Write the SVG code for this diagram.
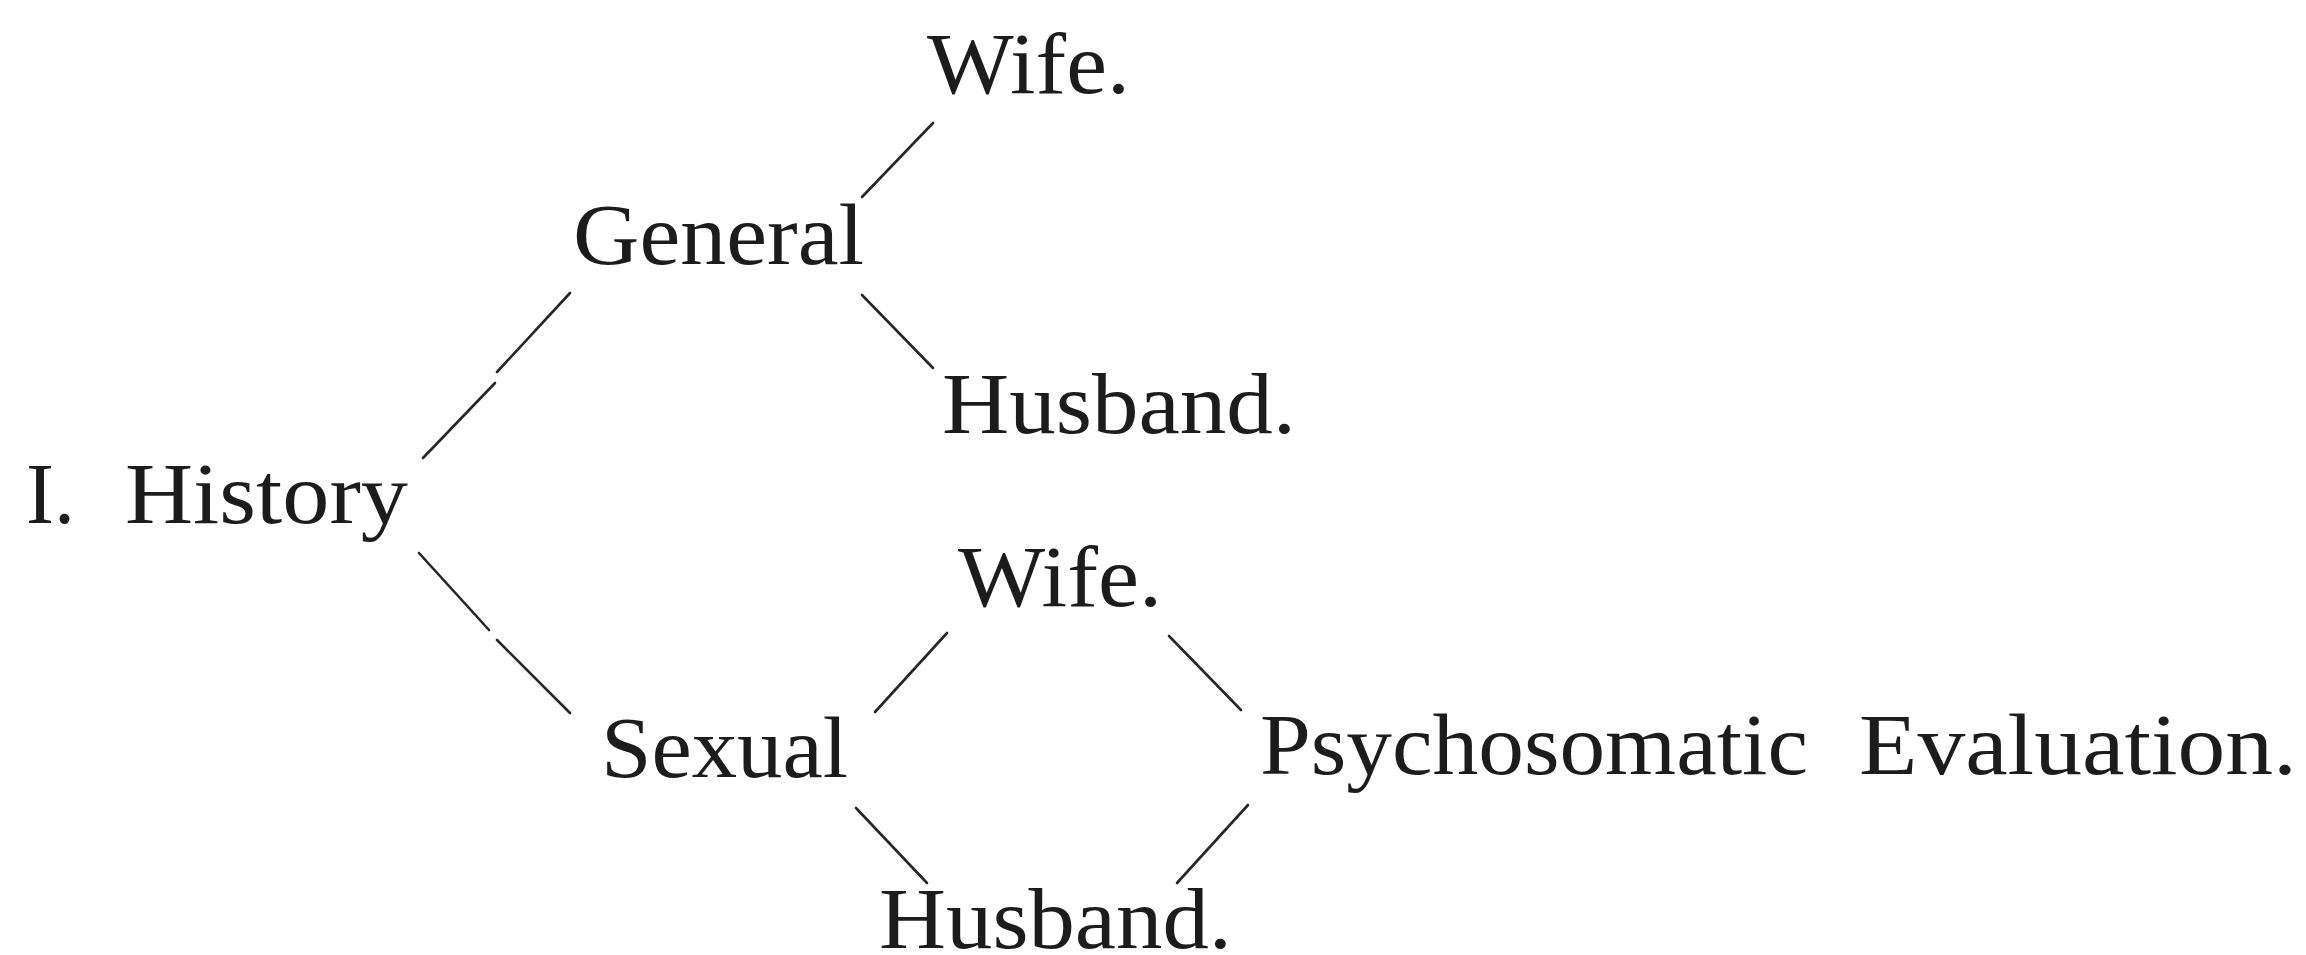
<svg xmlns="http://www.w3.org/2000/svg" width="2306" height="955" viewBox="0 0 2306 955">
<style>
.t{font-family:"Liberation Serif","DejaVu Serif",serif;font-size:86px;fill:#1c1c1c}
.c line{stroke:#262626;stroke-width:2.6;stroke-linecap:round}
</style>
<rect width="2306" height="955" fill="#ffffff"/>
<g id="connectors" class="c">
<line x1="933" y1="123" x2="862" y2="197"/>
<line x1="570" y1="293" x2="497" y2="372"/>
<line x1="495" y1="383" x2="423" y2="458"/>
<line x1="862" y1="295" x2="933" y2="368"/>
<line x1="419" y1="553" x2="489" y2="630"/>
<line x1="497" y1="640" x2="570" y2="713"/>
<line x1="875" y1="712" x2="947" y2="633"/>
<line x1="1169" y1="636" x2="1241" y2="710"/>
<line x1="856" y1="808" x2="927" y2="883"/>
<line x1="1248" y1="805" x2="1177" y2="883"/>
</g>
<g id="history"><text class="t" x="26" y="523" textLength="49" lengthAdjust="spacingAndGlyphs">I.</text><text class="t" x="125" y="523" textLength="283" lengthAdjust="spacingAndGlyphs">History</text></g>
<g id="general"><text class="t" x="573" y="264" textLength="291" lengthAdjust="spacingAndGlyphs">General</text></g>
<g id="wife-general"><text class="t" x="927" y="93" textLength="203" lengthAdjust="spacingAndGlyphs">Wife.</text></g>
<g id="husband-general"><text class="t" x="942" y="433" textLength="354" lengthAdjust="spacingAndGlyphs">Husband.</text></g>
<g id="sexual"><text class="t" x="601" y="777" textLength="247" lengthAdjust="spacingAndGlyphs">Sexual</text></g>
<g id="wife-sexual"><text class="t" x="958" y="606" textLength="204" lengthAdjust="spacingAndGlyphs">Wife.</text></g>
<g id="husband-sexual"><text class="t" x="879" y="948" textLength="353" lengthAdjust="spacingAndGlyphs">Husband.</text></g>
<g id="psychosomatic"><text class="t" x="1260" y="774" textLength="548" lengthAdjust="spacingAndGlyphs">Psychosomatic</text><text class="t" x="1859" y="774" textLength="438" lengthAdjust="spacingAndGlyphs">Evaluation.</text></g>
</svg>
